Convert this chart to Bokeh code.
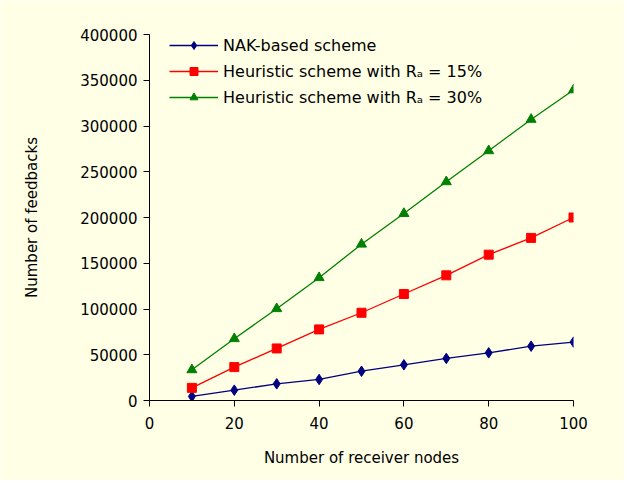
from bokeh.plotting import figure
from bokeh.models import Range1d, FixedTicker, BasicTickFormatter
from bokeh.embed import file_html
from bokeh.resources import INLINE

# ---- data ----
nodes = [10, 20, 30, 40, 50, 60, 70, 80, 90, 100]
nak_based = [4400, 11300, 18200, 23000, 32000, 39000, 46000, 52100, 59400, 63800]
heuristic_15 = [13800, 36500, 56900, 77700, 95900, 116400, 136800, 159400, 177700, 200000]
heuristic_30 = [33500, 67500, 100300, 134200, 170800, 204300, 239000, 272900, 307200, 339400]

x_ticks = [0, 20, 40, 60, 80, 100]
y_ticks = [0, 50000, 100000, 150000, 200000, 250000, 300000, 350000, 400000]

labels = [
    "NAK-based scheme",
    "Heuristic scheme with R\u2090 = 15%",
    "Heuristic scheme with R\u2090 = 30%",
]
x_title = "Number of receiver nodes"
y_title = "Number of feedbacks"

BG = "#FFFFE6"
FONT = "DejaVu Sans"

p = figure(width=624, height=480, output_backend="svg", toolbar_location=None,
           x_range=Range1d(0, 100), y_range=Range1d(0, 400000),
           min_border_left=149, min_border_right=51,
           min_border_top=34, min_border_bottom=80,
           background_fill_color=BG, border_fill_color=BG,
           outline_line_color=None)
p.grid.visible = False

# series
p.line(nodes, nak_based, line_color="#000080", line_width=1.3, legend_label=labels[0])
p.scatter(nodes, nak_based, marker="diamond", size=10.5,
          fill_color="#000080", line_color="#000080", legend_label=labels[0])

p.line(nodes, heuristic_15, line_color="#FF0000", line_width=1.3, legend_label=labels[1])
p.scatter(nodes, heuristic_15, marker="square", size=9,
          fill_color="#FF0000", line_color="#FF0000", legend_label=labels[1])

p.line(nodes, heuristic_30, line_color="#008000", line_width=1.3, legend_label=labels[2])
p.scatter(nodes, heuristic_30, marker="triangle", size=10,
          fill_color="#008000", line_color="#008000", legend_label=labels[2])

# axes
for ax in (p.xaxis[0], p.yaxis[0]):
    ax.axis_line_color = "black"
    ax.major_tick_line_color = "black"
    ax.major_tick_out = 6
    ax.major_tick_in = 0
    ax.minor_tick_line_color = None
    ax.major_label_text_font = FONT
    ax.major_label_text_font_size = "15px"
    ax.major_label_text_color = "black"
    ax.axis_label_text_font = FONT
    ax.axis_label_text_font_size = "15px"
    ax.axis_label_text_font_style = "normal"
    ax.axis_label_text_color = "black"

p.xaxis[0].ticker = FixedTicker(ticks=x_ticks)
p.yaxis[0].ticker = FixedTicker(ticks=y_ticks)
p.yaxis[0].formatter = BasicTickFormatter(use_scientific=False)
p.xaxis[0].axis_label = x_title
p.yaxis[0].axis_label = y_title
p.xaxis[0].major_label_standoff = 10
p.xaxis[0].axis_label_standoff = 17
p.yaxis[0].major_label_standoff = 6
p.yaxis[0].axis_label_standoff = 36

# legend
lg = p.legend[0]
lg.location = (20, 293)
lg.background_fill_alpha = 0
lg.border_line_color = None
lg.padding = 0
lg.margin = 0
lg.glyph_width = 49
lg.glyph_height = 20
lg.label_height = 20
lg.spacing = 6
lg.label_standoff = 5
lg.label_text_font = FONT
lg.label_text_font_size = "16px"
lg.label_text_color = "black"

open("out.html", "w").write(file_html(p, INLINE))
